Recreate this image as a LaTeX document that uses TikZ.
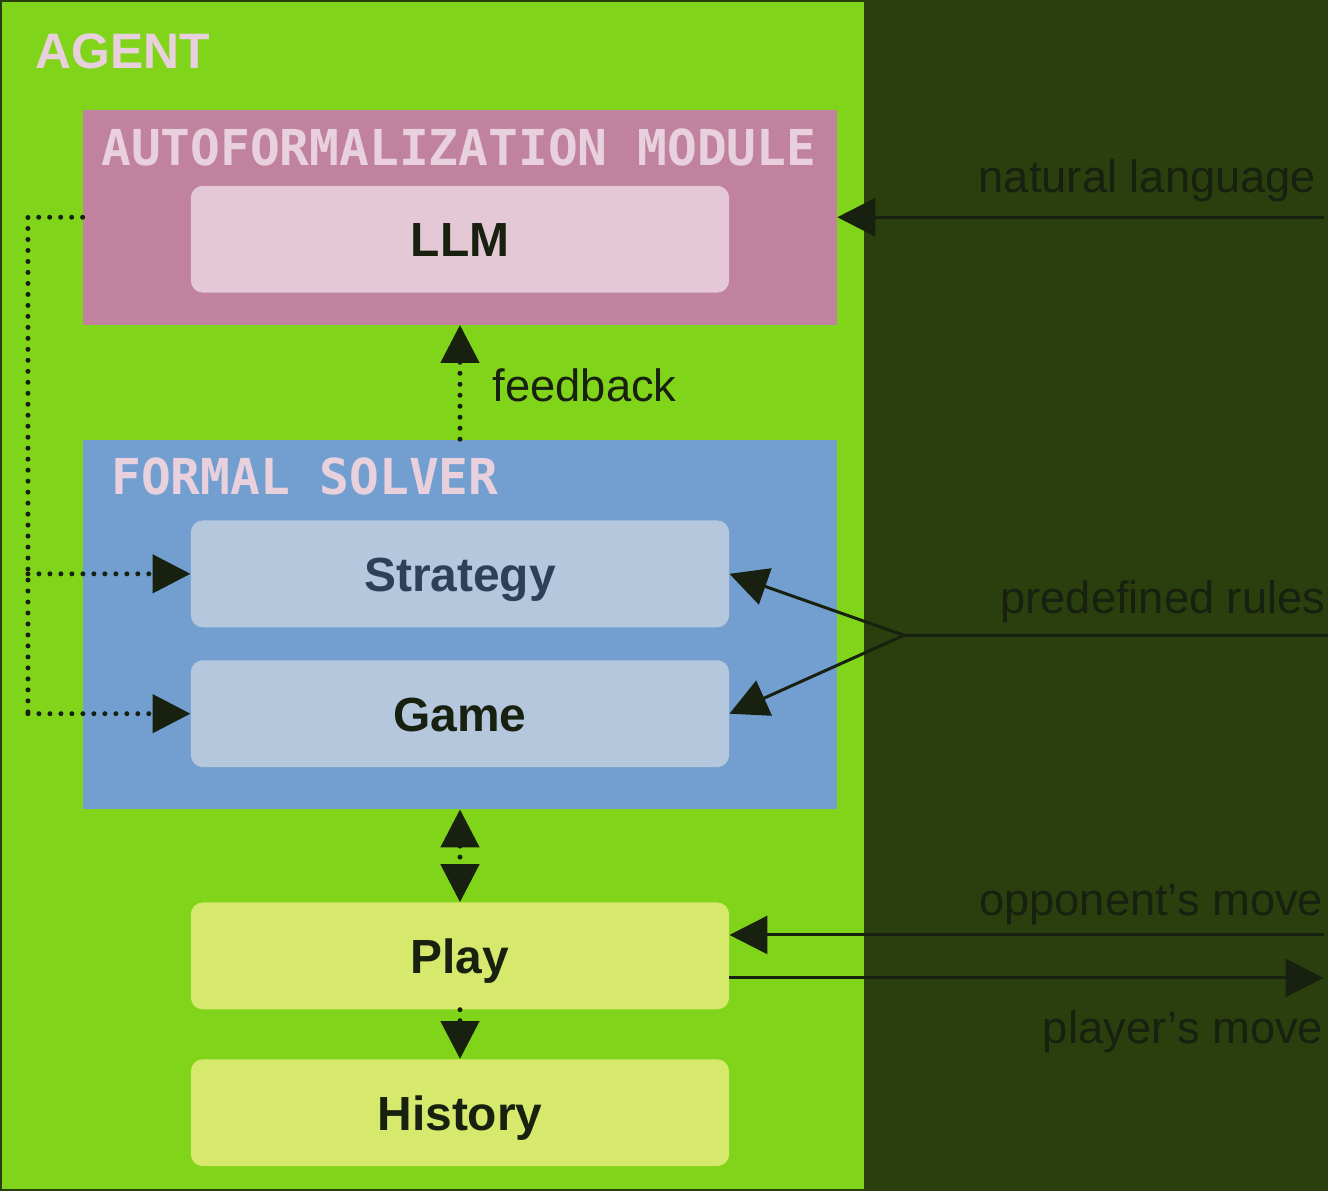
\documentclass[tikz,border=0pt]{standalone}
\usepackage{fontspec}
\setmainfont{Liberation Sans}
\newfontfamily\monofont{DejaVu Sans Mono}
\usetikzlibrary{arrows.meta}
\definecolor{bgdark}{HTML}{2B3F0E}
\definecolor{agentgreen}{HTML}{80D41A}
\definecolor{modpink}{HTML}{C0829F}
\definecolor{llmpink}{HTML}{E4C8D6}
\definecolor{titlepink}{HTML}{E8D0DC}
\definecolor{solverblue}{HTML}{729FCF}
\definecolor{boxblue}{HTML}{B4C7DC}
\definecolor{playyellow}{HTML}{D6E96C}
\definecolor{inkdark}{HTML}{18200F}
\definecolor{inkblue}{HTML}{2C4058}

\begin{document}
\begin{tikzpicture}[x=0.02cm, y=-0.02cm, >={Triangle[length=0.76cm, width=0.76cm]},
  area/.style = {inner sep=0, minimum width=15.1cm},
  box/.style = {rounded corners=0.24cm, inner sep=0, minimum width=10.78cm, minimum height=2.14cm, text height=0.7cm, text depth=0pt, text=inkdark, font=\fontsize{27.3}{30}\selectfont\bfseries},
  title/.style = {anchor=base west, inner sep=0, text=titlepink, font=\monofont\fontsize{28.2}{30}\selectfont\bfseries},
  lbl/.style = {inner sep=0, text=inkdark, font=\fontsize{25.8}{28}\selectfont},
  wire/.style = {draw=inkdark, line width=0.06cm},
  dotwire/.style = {draw=inkdark, line width=0.1cm, line cap=round, dash pattern=on 0pt off 0.22cm}]
% canvas
\fill[bgdark] (0,0) rectangle (1329,1192);
\node[fill=agentgreen, inner sep=0, minimum width=17.26cm, minimum height=23.76cm] (agent) at (433.5,596) {};
\node[title, text=titlepink, font=\fontsize{28.4}{30}\selectfont\bfseries] (agenttitle) at (35,69) {AGENT};

% modules
\node[area, fill=modpink, minimum height=4.3cm] (afm) at (460.5,217.5) {};
\node[title] (afmtitle) at (101,166) {AUTOFORMALIZATION MODULE};
\node[box, fill=llmpink] (llm) at (460.5,239.5) {LLM};

\node[area, fill=solverblue, minimum height=7.4cm] (solver) at (460.5,625) {};
\node[title] (solvertitle) at (111,495) {FORMAL SOLVER};
\node[box, fill=boxblue, text=inkblue] (strategy) at (460.5,574.5) {Strategy};
\node[box, fill=boxblue] (game) at (460.5,714.5) {Game};

\node[box, fill=playyellow] (play) at (460.5,957) {Play};
\node[box, fill=playyellow] (history) at (460.5,1114) {History};

% dotted links
\draw[dotwire, ->] (solver.north) -- (afm.south);
\node[lbl, anchor=base west] (feedback) at (493,402) {feedback};
\coordinate (lefttop) at (28,217.5);
\coordinate (leftbot) at (28,714.5);
\draw[dotwire] (afm.west) -- (lefttop) -- (leftbot);
\draw[dotwire, ->] (leftbot) -- (game.west);
\draw[dotwire, ->] (lefttop |- strategy.west) -- (strategy.west);
\draw[dotwire, <->] (solver.south) -- (play.north);
\draw[dotwire, ->] (play.south) -- (history.north);

% outside inputs and outputs
\coordinate (nlend) at (1325,217.5);
\draw[wire, ->] (nlend) -- (afm.east);
\node[lbl, anchor=base east] (natlang) at (1318,193) {natural language};

\coordinate (rulesend) at (1329,636);
\coordinate (fork) at (905,636);
\draw[wire] (rulesend) -- (fork);
\draw[wire, ->] (fork) -- (strategy.east);
\draw[wire, ->] (fork) -- (game.east);
\node[lbl, anchor=base east] (rules) at (1327,614) {predefined rules};

\coordinate (oppend) at (1325,936);
\coordinate (plyend) at (1325,979);
\draw[wire, ->] (oppend) -- (oppend -| play.east);
\draw[wire, ->] (plyend -| play.east) -- (plyend);
\node[lbl, anchor=base east] (oppmove) at (1325,917) {opponent’s move};
\node[lbl, anchor=base east] (plymove) at (1325,1045) {player’s move};
\end{tikzpicture}
\end{document}
